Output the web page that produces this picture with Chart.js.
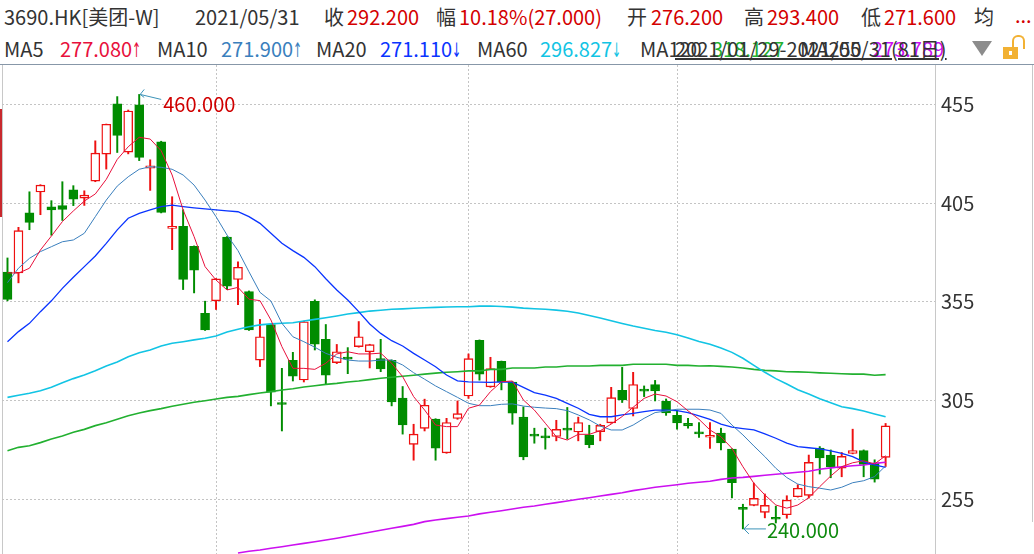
<!DOCTYPE html>
<html>
<head>
<meta charset="utf-8">
<script src="https://cdn.jsdelivr.net/npm/chart.js@4/dist/chart.umd.min.js"></script>
<style>
  html, body { margin: 0; padding: 0; background: #fff; }
  body { width: 1034px; height: 554px; position: relative; overflow: hidden;
         font-family: "Noto Sans CJK SC", "Noto Sans", sans-serif; }
  .t { position: absolute; font-size: 20px; line-height: 24px; white-space: nowrap; color: #333; }
  .arr { display: inline-block; width: 9px; font-family: "DejaVu Sans", sans-serif;
         transform: scaleX(0.55); transform-origin: left center; }
  #sep { position: absolute; left: 0; top: 64px; width: 1034px; height: 1px; background: #8797a8; }
  #leftLine { position: absolute; left: 2px; top: 65px; width: 1px; height: 489px; background: #c8c8c8; }
  #redMark { position: absolute; left: 0; top: 109px; width: 2px; height: 108px; background: #c8282d; }
  #rightLine { position: absolute; left: 1032px; top: 65px; width: 1px; height: 457px; background: #c8c8c8; }
  #wrap { position: absolute; left: 0; top: 65px; width: 1034px; height: 489px; }
  #tri { position: absolute; left: 972px; top: 41px; width: 0; height: 0;
         border-left: 10px solid transparent; border-right: 10px solid transparent; border-top: 15px solid #8c8c8c; }
  #lockBody { position: absolute; left: 1003px; top: 47px; width: 15px; height: 12px; background: #f2b133; }
  #lockHole { position: absolute; left: 1009px; top: 51px; width: 3px; height: 4px; background: #fff; }
  #lockShackle { position: absolute; left: 1012px; top: 35px; width: 9px; height: 12px;
                 border: 2px solid #f2b133; border-bottom: none; border-radius: 6px 6px 0 0; }
</style>
</head>
<body>
<div id="header"></div>
<div id="tri"></div>
<div id="lockShackle"></div>
<div id="lockBody"></div>
<div id="lockHole"></div>
<div id="sep"></div>
<div id="leftLine"></div>
<div id="redMark"></div>
<div id="rightLine"></div>
<div id="wrap"><canvas id="kline" width="1034" height="489"></canvas></div>
<script>
// trading days shown
const dates = [
  '2021/01/29',
  '2021/02/01', '2021/02/02', '2021/02/03', '2021/02/04', '2021/02/05',
  '2021/02/08', '2021/02/09', '2021/02/10', '2021/02/11',
  '2021/02/16', '2021/02/17', '2021/02/18', '2021/02/19',
  '2021/02/22', '2021/02/23', '2021/02/24', '2021/02/25', '2021/02/26',
  '2021/03/01', '2021/03/02', '2021/03/03', '2021/03/04', '2021/03/05',
  '2021/03/08', '2021/03/09', '2021/03/10', '2021/03/11', '2021/03/12',
  '2021/03/15', '2021/03/16', '2021/03/17', '2021/03/18', '2021/03/19',
  '2021/03/22', '2021/03/23', '2021/03/24', '2021/03/25', '2021/03/26',
  '2021/03/29', '2021/03/30', '2021/03/31',
  '2021/04/01', '2021/04/07', '2021/04/08', '2021/04/09',
  '2021/04/12', '2021/04/13', '2021/04/14', '2021/04/15', '2021/04/16',
  '2021/04/19', '2021/04/20', '2021/04/21', '2021/04/22', '2021/04/23',
  '2021/04/26', '2021/04/27', '2021/04/28', '2021/04/29', '2021/04/30',
  '2021/05/03', '2021/05/04', '2021/05/05', '2021/05/06', '2021/05/07',
  '2021/05/10', '2021/05/11', '2021/05/12', '2021/05/13', '2021/05/14',
  '2021/05/17', '2021/05/18', '2021/05/20', '2021/05/21',
  '2021/05/24', '2021/05/25', '2021/05/26', '2021/05/27', '2021/05/28',
  '2021/05/31'
];

const openP = [370.0, 369.6, 400.1, 410.6, 403.1, 403.7, 411.7, 407.5, 416.1, 429.8,
  455.2, 430.8, 454.7, 422.7, 436.0, 392.2, 393.2, 383.1, 349.1, 355.5,
  387.8, 366.3, 360.2, 325.5, 343.5, 304.0, 325.4, 315.4, 355.2, 336.0,
  324.2, 326.4, 332.3, 329.7, 326.2, 325.4, 306.2, 282.8, 290.9, 295.6,
  278.5, 295.9, 307.3, 335.5, 311.9, 324.8, 314.4, 296.6, 287.4, 286.5,
  286.8, 290.4, 289.1, 287.5, 289.3, 293.7, 310.2, 301.0, 310.2, 313.1,
  304.6, 297.5, 293.5, 288.5, 286.4, 288.5, 280.4, 250.3, 251.9, 248.4,
  245.3, 247.2, 256.3, 257.0, 280.9, 277.4, 270.8, 278.2, 279.7, 273.3, 276.2];
const highP = [377.2, 392.7, 410.7, 414.3, 406.2, 415.8, 413.8, 411.2, 436.5, 445.0,
  458.9, 452.1, 460.0, 426.9, 436.3, 408.2, 401.6, 383.3, 355.3, 366.8,
  388.0, 375.2, 360.5, 346.1, 343.8, 321.3, 329.4, 345.2, 356.0, 343.5,
  333.4, 331.8, 345.0, 333.5, 336.0, 325.6, 312.1, 293.0, 305.7, 295.8,
  296.0, 304.8, 328.6, 335.7, 326.9, 325.0, 314.6, 301.8, 291.0, 291.0,
  295.0, 301.5, 296.6, 292.5, 293.0, 311.7, 321.8, 319.3, 312.4, 315.2,
  305.8, 299.7, 296.0, 293.9, 293.9, 291.0, 280.6, 252.5, 263.2, 257.7,
  251.5, 256.8, 262.4, 277.4, 281.7, 280.0, 278.7, 290.5, 280.0, 275.0, 293.4];
const lowP = [355.5, 364.6, 391.5, 399.1, 388.7, 396.2, 403.7, 403.8, 415.8, 422.2,
  430.6, 429.9, 426.5, 411.4, 400.0, 381.4, 361.2, 359.5, 340.5, 351.1,
  361.2, 353.5, 340.5, 322.2, 302.3, 289.6, 314.9, 314.4, 330.6, 313.2,
  323.7, 318.6, 332.0, 321.5, 319.6, 302.3, 288.0, 274.8, 289.6, 274.8,
  278.3, 295.5, 306.1, 315.3, 311.7, 310.4, 293.0, 275.0, 283.4, 280.4,
  284.6, 285.5, 284.6, 281.1, 284.6, 293.5, 304.0, 297.2, 307.0, 304.8,
  297.5, 290.5, 291.0, 286.3, 280.8, 280.0, 255.7, 240.0, 251.7, 245.6,
  243.0, 245.4, 256.1, 255.6, 267.8, 265.9, 266.4, 278.0, 266.4, 263.7, 271.6];
const closeP = [356.2, 391.0, 395.2, 414.1, 401.5, 401.8, 407.0, 409.0, 430.3, 444.9,
  439.2, 451.6, 428.1, 423.9, 400.3, 393.0, 366.3, 371.0, 340.7, 366.6,
  362.9, 372.5, 340.7, 337.3, 309.3, 303.0, 317.4, 344.9, 333.6, 317.8,
  329.7, 326.0, 337.3, 333.3, 321.0, 304.3, 292.7, 288.0, 302.6, 280.9,
  293.9, 298.4, 326.2, 318.4, 321.2, 314.4, 298.6, 276.4, 287.0, 286.1,
  290.4, 290.0, 293.9, 282.6, 292.4, 306.5, 305.3, 313.1, 309.8, 309.9,
  298.7, 293.7, 292.2, 288.1, 286.8, 283.6, 263.4, 249.9, 255.5, 251.9,
  244.9, 254.6, 260.6, 273.7, 276.0, 271.5, 276.7, 279.7, 272.7, 265.2, 292.2];

// moving averages
const ma5 = [369.7, 369.5, 372.0, 381.2, 388.3, 395.6, 401.0, 406.0, 409.6, 417.0,
  427.1, 433.5, 438.3, 437.4, 431.5, 419.2, 401.5, 388.0, 372.8, 366.0,
  361.0, 362.3, 356.3, 355.6, 345.8, 332.3, 321.3, 321.3, 320.8, 323.9,
  328.6, 329.7, 328.6, 328.6, 329.0, 323.9, 317.1, 307.0, 300.2, 292.6,
  291.8, 291.8, 301.1, 302.7, 309.5, 314.5, 314.9, 305.3, 300.2, 293.5,
  286.7, 285.0, 287.9, 287.9, 289.7, 293.1, 296.9, 301.6, 306.1, 308.3,
  307.3, 304.4, 299.8, 295.5, 290.1, 286.7, 280.8, 271.5, 263.1, 257.2,
  252.1, 250.5, 252.1, 255.8, 261.4, 266.8, 271.5, 273.5, 274.5, 272.9, 277.08];
const ma10 = [364.7, 372.0, 377.0, 380.4, 382.9, 385.4, 386.3, 389.7, 398.1, 406.5,
  413.6, 418.3, 422.1, 423.4, 423.1, 422.1, 419.2, 414.1, 406.5, 398.1,
  388.8, 380.9, 370.2, 359.8, 355.4, 344.1, 337.3, 334.8, 332.0, 328.9,
  326.9, 325.5, 325.0, 325.0, 325.5, 325.5, 323.0, 319.1, 315.8, 312.4,
  309.5, 306.6, 303.6, 302.4, 302.4, 303.1, 303.3, 302.2, 301.6, 301.2,
  300.9, 299.9, 297.7, 295.2, 292.1, 290.1, 290.1, 292.6, 296.0, 298.9,
  299.7, 300.6, 300.6, 300.6, 300.2, 298.5, 292.6, 287.6, 282.0, 276.6,
  270.7, 266.0, 262.7, 261.4, 260.6, 259.7, 261.1, 263.4, 264.4, 266.5, 271.9];
const ma20 = [334.8, 339.9, 344.1, 350.0, 355.5, 361.8, 367.4, 372.8, 378.2, 384.6,
  391.4, 397.3, 399.8, 401.5, 403.2, 403.9, 403.2, 402.6, 402.1, 401.5,
  401.0, 400.6, 398.1, 394.7, 389.7, 384.6, 380.9, 377.5, 372.8, 366.7,
  361.0, 355.9, 350.0, 343.8, 339.0, 335.3, 332.6, 328.9, 325.5, 322.1,
  317.9, 315.0, 314.5, 314.3, 314.2, 314.5, 314.3, 311.7, 309.0, 307.8,
  306.1, 303.6, 301.1, 298.0, 296.8, 296.8, 297.7, 298.5, 299.4, 300.2,
  300.2, 299.9, 298.9, 297.2, 295.5, 293.1, 291.5, 290.8, 290.1, 288.1,
  285.9, 283.4, 281.7, 281.1, 280.5, 279.5, 278.3, 276.6, 274.0, 272.4, 271.11];
const ma60 = [306.6, 307.7, 308.7, 310.0, 311.7, 314.0, 316.1, 317.9, 320.1, 322.5,
  324.5, 327.2, 329.2, 330.6, 332.6, 334.0, 334.8, 335.7, 336.5, 337.7,
  339.7, 341.1, 342.4, 343.3, 343.8, 344.1, 344.4, 345.3, 346.1, 346.9,
  347.8, 348.8, 349.5, 350.3, 350.7, 351.2, 351.4, 351.7, 352.0, 352.2,
  352.4, 352.5, 352.5, 352.8, 352.9, 352.6, 352.3, 351.8, 351.5, 351.2,
  350.8, 350.2, 349.3, 348.1, 346.8, 345.4, 344.0, 342.7, 341.6, 340.5,
  339.6, 338.3, 336.7, 334.9, 333.5, 331.6, 329.4, 326.4, 322.8, 319.3,
  316.1, 313.4, 310.5, 308.3, 305.9, 303.9, 301.9, 300.9, 299.7, 298.2, 296.827];
const ma120 = [279.6, 281.3, 282.1, 283.7, 285.5, 287.0, 288.9, 290.4, 292.3, 293.8,
  295.5, 297.3, 298.7, 299.9, 300.9, 302.1, 303.1, 304.1, 304.9, 305.8,
  306.6, 307.1, 308.0, 308.8, 309.5, 310.3, 311.0, 311.9, 312.5, 313.2,
  313.7, 314.4, 314.9, 315.6, 316.3, 316.8, 317.3, 317.8, 318.4, 318.9,
  319.3, 319.6, 320.0, 320.0, 320.8, 320.8, 321.5, 321.5, 321.5, 322.0,
  322.0, 322.5, 322.5, 322.5, 322.8, 322.8, 322.8, 323.4, 323.4, 323.4,
  323.4, 322.8, 322.8, 322.5, 322.6, 322.3, 322.0, 321.5, 320.8, 320.3,
  320.0, 319.6, 319.5, 319.3, 319.0, 318.8, 318.6, 318.4, 318.4, 317.8, 318.127];
// MA250 is below the visible range for the first 21 days
const ma250 = [null, null, null, null, null, null, null, null, null, null,
  null, null, null, null, null, null, null, null, null, null, null,
  227.8, 228.7, 229.3, 230.2, 231.0, 231.9, 232.7, 233.5, 234.4, 235.3,
  236.3, 237.3, 238.3, 239.3, 240.3, 241.3, 242.3, 243.7, 244.5, 245.2,
  245.9, 246.5, 247.6, 248.4, 249.2, 250.1, 251.0, 251.6, 252.5, 253.3,
  254.1, 255.0, 255.8, 256.7, 257.5, 258.3, 259.4, 260.2, 261.1, 261.7,
  262.4, 263.1, 263.6, 264.1, 265.1, 265.8, 266.1, 266.6, 267.2, 267.7,
  268.2, 268.7, 269.2, 270.2, 270.9, 271.5, 272.0, 272.4, 273.2, 273.789];

const yTicks = [255, 305, 355, 405, 455];

const RED = '#ee1010';
const GREEN = '#008c00';
const FONT = '"Noto Sans CJK SC", "Noto Sans", sans-serif';

const maDefs = [
  { name: 'MA5', data: ma5, color: '#e8103c', width: 1 },
  { name: 'MA10', data: ma10, color: '#3a7fbd', width: 1 },
  { name: 'MA20', data: ma20, color: '#0a34ff', width: 1.3 },
  { name: 'MA60', data: ma60, color: '#12c4e4', width: 1.6 },
  { name: 'MA120', data: ma120, color: '#22b030', width: 1.6 },
  { name: 'MA250', data: ma250, color: '#cc10f0', width: 1.6 }
];

// ---- header text ----
const header = document.getElementById('header');
function put(left, top, text, color, extra) {
  const s = document.createElement('span');
  s.className = 't';
  s.style.left = left + 'px';
  s.style.top = top + 'px';
  if (color) s.style.color = color;
  if (extra) Object.assign(s.style, extra);
  s.textContent = text;
  header.appendChild(s);
  return s;
}
const n = closeP.length - 1;
const chg = closeP[n] - closeP[n - 1];
const HRED = '#d40000';
put(4, 5, '3690.HK[美团-W]');
put(195, 5, dates[n]);
put(324, 5, '收');
put(347, 5, closeP[n].toFixed(3), HRED);
put(436, 5, '幅');
put(459, 5, (chg / closeP[n - 1] * 100).toFixed(2) + '%(' + chg.toFixed(3) + ')', HRED);
put(627, 5, '开');
put(651, 5, openP[n].toFixed(3), HRED);
put(744, 5, '高');
put(767, 5, highP[n].toFixed(3), HRED);
put(861, 5, '低');
put(884, 5, lowP[n].toFixed(3), HRED);
put(974, 5, '均');
put(1015, 3, '...', HRED);

const row2 = [[4, 60], [157, 221], [316, 380], [477, 540]];
row2.forEach((p, k) => {
  const d = maDefs[k];
  put(p[0], 37, d.name);
  const s = put(p[1], 37, d.data[n].toFixed(3), d.color);
  const a = document.createElement('span');
  a.className = 'arr';
  a.textContent = d.data[n] >= d.data[n - 1] ? '↑' : '↓';
  s.appendChild(a);
});
put(640, 37, 'MA120');
put(712, 37, maDefs[4].data[n].toFixed(3), maDefs[4].color);
put(800, 37, 'MA250');
put(872, 37, maDefs[5].data[n].toFixed(3), maDefs[5].color);
put(675, 37, dates[0] + '-' + dates[n] + '(' + dates.length + '日)', '#333',
    { textDecoration: 'underline' });

// ---- chart ----
const idx = dates.map((d, i) => i);
const isUp = idx.map(i => closeP[i] >= openP[i]);
const monthStarts = idx.filter(i => i > 1 && dates[i].slice(5, 7) !== dates[i - 1].slice(5, 7));

const extremes = {
  id: 'extremes',
  afterDatasetsDraw(chart) {
    const { ctx, scales: { x, y } } = chart;
    const hi = Math.max(...highP), lo = Math.min(...lowP);
    const hiI = highP.indexOf(hi), loI = lowP.indexOf(lo);
    ctx.save();
    ctx.font = '20px ' + FONT;
    ctx.textBaseline = 'middle';
    ctx.strokeStyle = '#3c93b8';
    ctx.lineWidth = 1;

    let px = x.getPixelForValue(hiI) + 1, py = y.getPixelForValue(hi);
    ctx.beginPath();
    ctx.moveTo(px, py); ctx.lineTo(px + 21, py + 5);
    ctx.moveTo(px + 4, py - 5); ctx.lineTo(px, py); ctx.lineTo(px + 4, py + 3);
    ctx.stroke();
    ctx.fillStyle = '#d00000';
    ctx.fillText(hi.toFixed(3), px + 23, py + 10);

    px = x.getPixelForValue(loI) + 1; py = y.getPixelForValue(lo);
    ctx.beginPath();
    ctx.moveTo(px, py); ctx.lineTo(px + 22, py);
    ctx.moveTo(px + 5, py - 5); ctx.lineTo(px, py); ctx.lineTo(px + 5, py + 5);
    ctx.stroke();
    ctx.fillStyle = '#0e8a0e';
    ctx.fillText(lo.toFixed(3), px + 23, py + 1);
    ctx.restore();
  }
};

const datasets = maDefs.map(d => ({
  type: 'line',
  label: d.name,
  data: d.data.map((v, i) => ({ x: i, y: v })),
  borderColor: d.color,
  borderWidth: d.width,
  pointRadius: 0,
  tension: 0,
  order: 0
}));
datasets.push({
  type: 'bar',
  label: 'body',
  data: idx.map(i => ({ x: i, y: [openP[i], closeP[i]] })),
  backgroundColor: isUp.map(u => u ? '#ffffff' : GREEN),
  borderColor: isUp.map(u => u ? RED : GREEN),
  borderWidth: 1.4,
  borderSkipped: false,
  barThickness: 9,
  minBarLength: 2,
  grouped: false,
  order: 1
});
datasets.push({
  type: 'bar',
  label: 'wick',
  data: idx.map(i => ({ x: i, y: [lowP[i], highP[i]] })),
  backgroundColor: isUp.map(u => u ? RED : GREEN),
  barThickness: 1.3,
  grouped: false,
  order: 2
});

new Chart(document.getElementById('kline'), {
  data: { datasets },
  options: {
    responsive: false,
    animation: false,
    layout: { padding: { left: 2, top: 0, right: 0, bottom: 0 } },
    plugins: { legend: { display: false }, tooltip: { enabled: false } },
    scales: {
      x: {
        type: 'linear',
        offset: false,
        min: -0.5,
        max: 84.5,
        afterBuildTicks: s => { s.ticks = monthStarts.map(v => ({ value: v })); },
        ticks: { display: false },
        grid: { color: '#c4c4c4', drawTicks: false, offset: false },
        border: { display: false, dash: [2, 2] },
        afterFit: s => { s.height = 0; }
      },
      y: {
        position: 'right',
        min: 227.3,
        max: 474.9,
        afterBuildTicks: s => { s.ticks = yTicks.map(v => ({ value: v })); },
        ticks: { color: '#333', font: { size: 20, family: FONT }, padding: 6 },
        grid: { color: '#c4c4c4', drawTicks: false },
        border: { display: true, color: '#c8c8c8', width: 1, dash: [2, 2] },
        afterFit: s => { s.width = 99; s.paddingTop = 0; s.paddingBottom = 0; }
      }
    }
  },
  plugins: [extremes]
});
</script>
</body>
</html>
